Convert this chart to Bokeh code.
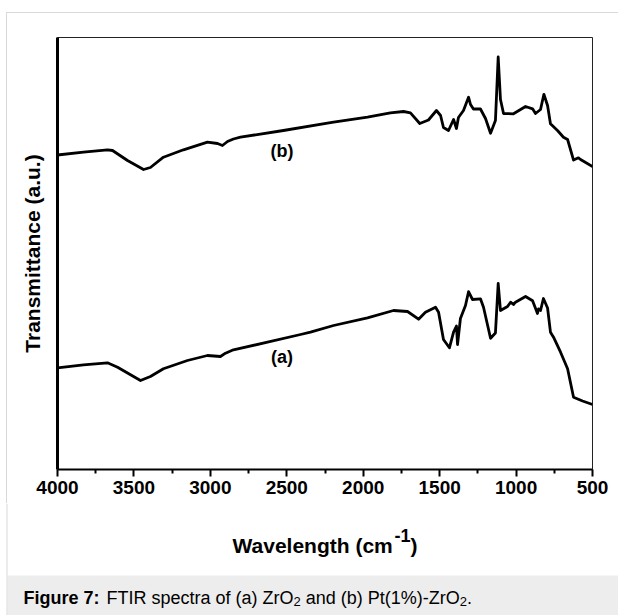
from bokeh.plotting import figure
from bokeh.layouts import column
from bokeh.models import FixedTicker, Range1d
from bokeh.embed import file_html
from bokeh.resources import INLINE
from bokeh.core.properties import value

# ---- data (wavenumber cm^-1, transmittance in arbitrary units) ----
wn_b = [4000, 3830, 3673, 3640, 3542, 3437, 3392, 3307, 3176, 3019, 2953, 2921, 2888, 2849,
        2803, 2522, 2234, 2194, 1972, 1822, 1736, 1691, 1630, 1573, 1521, 1494, 1475, 1442,
        1409, 1390, 1377, 1344, 1311, 1298, 1279, 1233, 1200, 1167, 1135, 1117, 1102, 1082,
        1017, 938, 892, 873, 840, 818, 794, 775, 729, 690, 663, 624, 592, 578, 500]
tr_b = [314.5, 317.3, 319.7, 319, 309, 300, 302, 312.3, 319.7, 327.3, 326, 324, 328, 330.5,
        332.3, 339, 346.3, 347.3, 352.3, 356.7, 358, 356.7, 346, 349.5, 359, 354, 342, 339,
        350, 341, 352, 359, 372.3, 365, 360.5, 360.5, 351, 336.3, 349, 412.5, 370, 356,
        355.7, 363, 360.7, 356, 360, 375.2, 364, 345.7, 339, 332.3, 330, 309.4, 311.7, 310, 303]

wn_a = [4000, 3830, 3673, 3607, 3457, 3392, 3307, 3150, 3019, 2934, 2901, 2849, 2626, 2410,
        2345, 2194, 1972, 1802, 1710, 1638, 1593, 1527, 1507, 1475, 1436, 1409, 1390, 1383,
        1364, 1331, 1311, 1285, 1233, 1213, 1167, 1135, 1117, 1102, 1056, 1036, 1017, 1004,
        938, 892, 860, 853, 840, 821, 794, 775, 755, 709, 663, 624, 565, 500]
tr_a = [101.7, 104.7, 106.7, 102.3, 89, 93, 100.7, 109, 114, 113, 116.3, 119.7, 127.3, 135,
        137.3, 144, 151.7, 159, 158, 150.3, 157.3, 162.3, 157.3, 130, 121.7, 137.3, 143.5, 125,
        151, 164, 177.8, 170, 170.7, 162.3, 131.2, 136.5, 186, 159, 163, 167.3, 165, 167.3,
        173, 168.7, 156, 160.7, 159, 171, 161.5, 137.3, 132.3, 117.3, 100.7, 72.3, 68.5, 65]

series_labels = ["(a)", "(b)"]
label_x = [2531, 2531]
label_y = [113, 319]

x_ticks = [4000, 3500, 3000, 2500, 2000, 1500, 1000, 500]
x_minor = [3750, 3250, 2750, 2250, 1750, 1250, 750]

x_title = "Wavelength (cm"
x_title_sup = "-1"
y_title = "Transmittance (a.u.)"
caption_bold = "Figure 7:"
caption_parts = ["FTIR spectra of (a) ZrO", "2", " and (b) Pt(1%)-ZrO", "2", "."]

# ---- layout constants (page pixels) ----
W, H = 618, 615
FL, FR, FT, FB = 57, 592, 37, 469
MAIN_H = 503
FONT = "Liberation Sans"
GRAY_LINE = "#d9d9d9"
BAND = "#ededed"

# ---- main chart ----
p = figure(width=W, height=MAIN_H, output_backend="svg", toolbar_location=None,
           x_range=Range1d(4000, 500), y_range=Range1d(0, 432),
           min_border_left=FL, min_border_right=W - FR,
           min_border_top=FT, min_border_bottom=MAIN_H - FB)
p.xgrid.visible = False
p.ygrid.visible = False
p.background_fill_color = "white"
p.border_fill_alpha = 0
p.outline_line_color = "#222222"
p.outline_line_width = 1
p.styles = {
    "background-color": "white",
    "background-image": f"linear-gradient({GRAY_LINE}, {GRAY_LINE}), linear-gradient({GRAY_LINE}, {GRAY_LINE})",
    "background-size": f"1px {MAIN_H - 12}px, {W - 6}px 1px",
    "background-position": "6px 12px, 6px 12px",
    "background-repeat": "no-repeat",
}

xa = p.xaxis[0]
xa.ticker = FixedTicker(ticks=x_ticks, minor_ticks=x_minor)
xa.axis_line_width = 2
xa.axis_line_color = "black"
xa.major_tick_out = 7
xa.major_tick_in = 0
xa.minor_tick_out = 4
xa.minor_tick_in = 0
xa.major_tick_line_width = 2
xa.minor_tick_line_width = 2
xa.major_tick_line_color = "black"
xa.minor_tick_line_color = "black"
xa.major_label_text_font = FONT
xa.major_label_text_font_style = "bold"
xa.major_label_text_font_size = "19px"
xa.major_label_text_color = "black"
xa.major_label_standoff = 4

ya = p.yaxis[0]
ya.ticker = FixedTicker(ticks=[])
ya.axis_line_width = 3
ya.axis_line_color = "black"
ya.major_tick_line_color = None
ya.minor_tick_line_color = None
ya.axis_label = y_title
ya.axis_label_text_font = FONT
ya.axis_label_text_font_style = "bold"
ya.axis_label_text_font_size = "21px"
ya.axis_label_text_color = "black"
ya.axis_label_standoff = 14

p.line(wn_b, tr_b, line_width=2.8, line_color="black", line_join="round")
p.line(wn_a, tr_a, line_width=2.8, line_color="black", line_join="round")
p.text(x=label_x, y=label_y, text=series_labels, text_font=value(FONT),
       text_font_style="bold", text_font_size="18px", text_align="center",
       text_baseline="middle", text_color="black")

# ---- bottom strip: x-axis title and caption (coordinates = page pixels) ----
BH = H - MAIN_H
q = figure(width=W, height=BH, output_backend="svg", toolbar_location=None,
           x_range=Range1d(0, W), y_range=Range1d(H, MAIN_H),
           x_axis_location=None, y_axis_location=None, min_border=0)
q.xgrid.visible = False
q.ygrid.visible = False
q.outline_line_color = None
q.background_fill_color = "white"
q.border_fill_color = "white"

for fig in (p, q):
    if "frame_align" in fig.properties():
        fig.frame_align = False

q.quad(left=[7], right=[W], top=[575], bottom=[H], fill_color=BAND, line_color=None)
q.quad(left=[6], right=[7], top=[MAIN_H], bottom=[H], fill_color=GRAY_LINE, line_color=None)

def txt(s, x, y, size, bold=True):
    q.text(x=[x], y=[y], text=[s], text_font=value(FONT), text_font_size=f"{size}px",
           text_font_style="bold" if bold else "normal", text_color="black",
           text_align="left", text_baseline="alphabetic")

AW = {'W': 944, 'a': 556, 'v': 556, 'e': 556, 'l': 278, 'n': 611, 'g': 611, 't': 333,
      'h': 611, ' ': 278, '(': 333, 'c': 556, 'm': 889}
w_title = sum(AW[ch] for ch in x_title) / 1000 * 21
x0 = 232
txt(x_title, x0, 545, 21)
txt(x_title_sup, x0 + w_title + 1, 535, 18)
txt(")", x0 + w_title + 1 + 0.889 * 18, 545, 21)

RW = {'F': 611, 'T': 611, 'I': 278, 'R': 722, ' ': 278, 's': 500, 'p': 556, 'e': 556,
      'c': 500, 't': 278, 'r': 333, 'a': 556, 'o': 556, 'f': 278, '(': 333, ')': 333,
      'Z': 611, 'O': 778, 'n': 556, 'd': 556, 'b': 556, 'P': 667, '1': 556, '%': 889,
      '-': 333, '.': 278, '2': 556}
CS = 18
txt(caption_bold, 23, 597, CS)
cx = 106
for part in caption_parts:
    sub = part == "2"
    size = 13 if sub else CS
    lead = len(part) - len(part.lstrip(" "))
    cx += lead * 0.278 * size
    shown = part.lstrip(" ")
    txt(shown, cx, 601 if sub else 597, size, bold=False)
    cx += sum(RW[ch] for ch in shown) / 1000 * size

layout = column(p, q, spacing=0)
open("out.html", "w").write(file_html(layout, INLINE))
